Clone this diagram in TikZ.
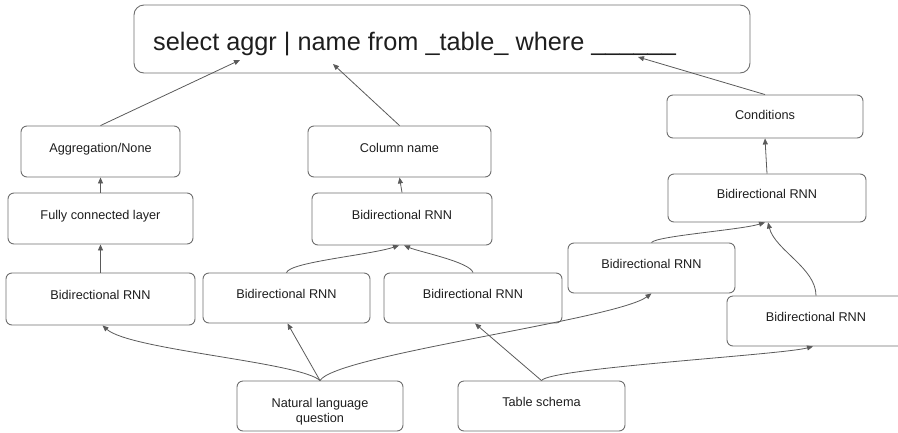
\documentclass[tikz,border=0pt]{standalone}
\usepackage{fontspec}
\setmainfont{Liberation Sans}
\usetikzlibrary{arrows.meta}
\definecolor{edgec}{HTML}{6E6E6E}
\definecolor{arrc}{HTML}{5A5A5A}
\definecolor{ink}{HTML}{1E1E1E}
\begin{document}
\begin{tikzpicture}[x=1pt,y=-1pt,
  box/.style={draw=edgec, line width=0.9pt, rounded corners=6pt, inner sep=0pt, text=ink,
    font=\fontsize{12.7}{15}\selectfont, text height=9pt, text depth=8pt},
  boxml/.style={draw=edgec, line width=0.9pt, rounded corners=6pt, inner sep=0pt, text=ink,
    font=\fontsize{12.7}{15}\selectfont, align=center},
  arr/.style={draw=arrc, line width=0.8pt, -{Triangle[length=6pt,width=5pt]}}]
\useasboundingbox (0,0) rectangle (898,432);
\begin{scope}
\clip (0,0) rectangle (898,432);
% nodes
\node[box, rounded corners=10pt, minimum width=616pt, minimum height=68pt] (top) at (442,39) {};
\node[anchor=base west, inner sep=0pt, text=ink, font=\fontsize{25.3}{30}\selectfont] (toptext) at (153,50)
  {select aggr | name from \_table\_ where \_\_\_\_\_\_};
\node[box, minimum width=159pt, minimum height=51pt] (agg) at (100.5,151.5) {Aggregation/None};
\node[box, minimum width=183pt, minimum height=51pt] (col) at (399.5,151.5) {Column name};
\node[box, minimum width=196pt, minimum height=43pt, text height=8pt, text depth=2pt] (cond) at (765,116.5) {Conditions};
\node[box, minimum width=185pt, minimum height=51pt] (fc) at (100.5,218.5) {Fully connected layer};
\node[box, minimum width=180pt, minimum height=52pt] (mid) at (402,219) {Bidirectional RNN};
\node[box, minimum width=198pt, minimum height=48pt] (rnnr) at (767,198) {Bidirectional RNN};
\node[box, minimum width=189pt, minimum height=52pt] (rnnl) at (100.5,299) {Bidirectional RNN};
\node[box, minimum width=167pt, minimum height=50pt] (rnn2) at (286.5,298) {Bidirectional RNN};
\node[box, minimum width=178pt, minimum height=50pt] (rnn3) at (473,298) {Bidirectional RNN};
\node[box, minimum width=167pt, minimum height=50pt] (rnn4) at (651.5,268) {Bidirectional RNN};
\node[box, minimum width=178pt, minimum height=50pt] (rnn5) at (816,321) {Bidirectional RNN};
\node[boxml, minimum width=166pt, minimum height=50pt] (nlq) at (320,406) {\rule{0pt}{21pt}Natural language\\question};
\node[box, minimum width=167pt, minimum height=50pt] (tab) at (541.5,406) {Table schema};
% targets inside the query box
\coordinate (t1) at (240,60);
\coordinate (t2) at (333,64);
\coordinate (t3) at (638,57);
% connectors
\draw[arr] (agg.north) -- (t1);
\draw[arr] (col.north) -- (t2);
\draw[arr] (cond.north) -- (t3);
\draw[arr] (fc.north) -- (agg.south);
\draw[arr] (mid.north) -- (col.south);
\draw[arr] (rnnr.north) -- (cond.south);
\draw[arr] (rnnl.north) -- (fc.south);
\draw[arr] (rnn2.north) .. controls (290,262) and (370,255) .. ([xshift=-3pt]mid.south);
\draw[arr] (rnn3.north) .. controls (470,262) and (420,252) .. ([xshift=2pt]mid.south);
\draw[arr] (rnn4.north) .. controls (656,236) and (740,230) .. ([xshift=-2pt]rnnr.south);
\draw[arr] (rnn5.north) .. controls (816,268) and (775,250) .. ([xshift=1pt]rnnr.south);
\draw[arr] (nlq.north) .. controls (300,362) and (130,350) .. ([xshift=2pt]rnnl.south);
\draw[arr] (nlq.north) -- ([xshift=1pt]rnn2.south);
\draw[arr] (nlq.north) .. controls (335,355) and (615,320) .. (rnn4.south);
\draw[arr] (tab.north) -- ([xshift=2pt]rnn3.south);
\draw[arr] (tab.north) .. controls (550,368) and (780,355) .. ([xshift=-3pt]rnn5.south);
\end{scope}
\end{tikzpicture}
\end{document}
